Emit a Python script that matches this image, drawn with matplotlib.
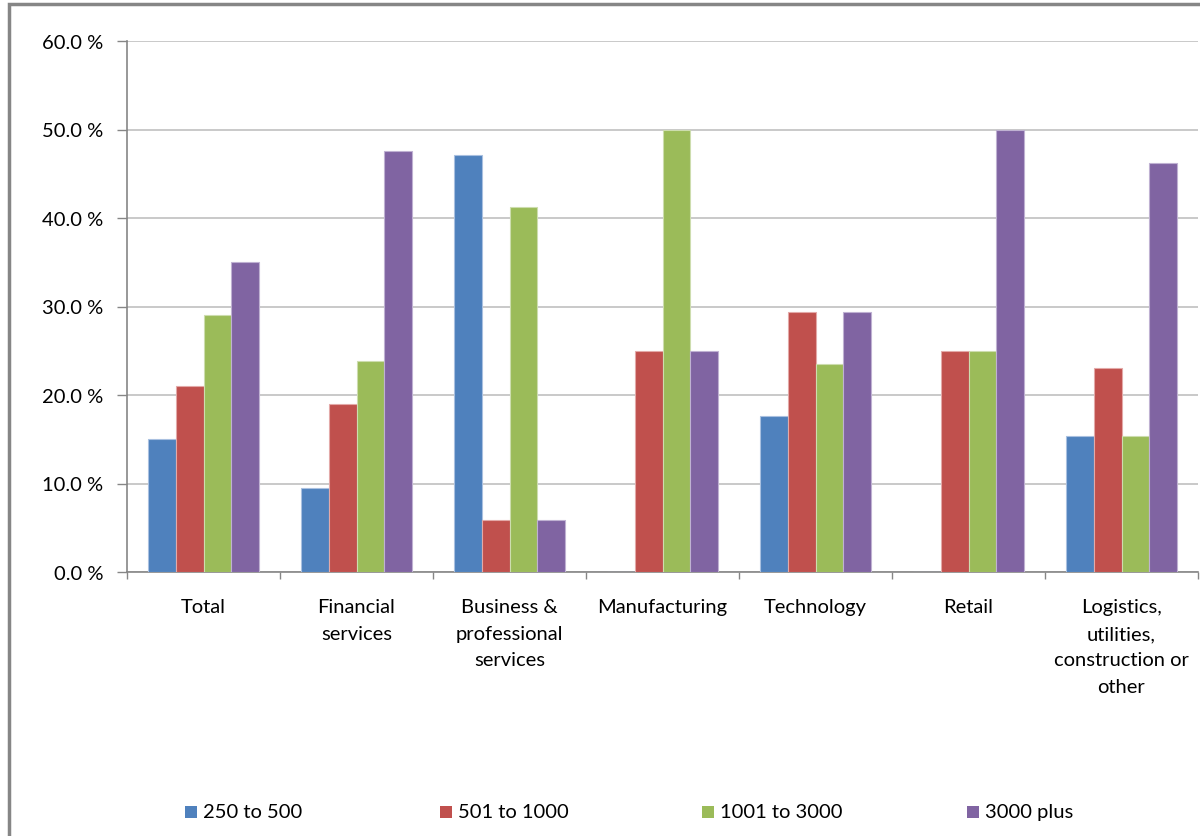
import matplotlib
matplotlib.use("Agg")
import matplotlib.pyplot as plt
from matplotlib.patches import Rectangle
import numpy as np

categories = ["Total", "Financial\nservices", "Business &\nprofessional\nservices",
              "Manufacturing", "Technology", "Retail",
              "Logistics,\nutilities,\nconstruction or\nother"]
series_names = ["250 to 500", "501 to 1000", "1001 to 3000", "3000 plus"]
s_250_500 = [15.0, 9.5, 47.1, 0.0, 17.6, 0.0, 15.4]
s_501_1000 = [21.0, 19.0, 5.9, 25.0, 29.4, 25.0, 23.1]
s_1001_3000 = [29.0, 23.8, 41.2, 50.0, 23.5, 25.0, 15.4]
s_3000_plus = [35.0, 47.6, 5.9, 25.0, 29.4, 50.0, 46.2]
yticks = [0, 10, 20, 30, 40, 50, 60]

colors = ["#4F81BD", "#C0504D", "#9BBB59", "#8064A2"]
edge_colors = ["#A9C0E0", "#E3A9A8", "#CDDDAE", "#BFB1D2"]

plt.rcParams["font.family"] = ["Lato", "DejaVu Sans"]
FS = 14.5

fig = plt.figure(figsize=(12, 8.37), dpi=100)
ax = fig.add_axes([127 / 1200, 1 - 573 / 837, 1071 / 1200, 531 / 837])

all_series = [s_250_500, s_501_1000, s_1001_3000, s_3000_plus]
n = len(categories)
x = np.arange(n)
w = 1 / 5.5
for i, vals in enumerate(all_series):
    offs = (i - 1.5) * w
    ax.bar(x + offs, vals, width=w, color=colors[i], edgecolor=edge_colors[i],
           linewidth=0.8, zorder=3)

ax.set_xlim(-0.5, n - 0.5)
ax.set_ylim(0, 60)
ax.set_yticks(yticks)
ax.set_yticklabels([f"{v:.1f} %" for v in yticks], fontsize=FS, color="#000000")
ax.yaxis.grid(True, color="#C0C0C0", linewidth=1.2, zorder=0)
ax.tick_params(axis="y", length=7, width=1, color="#868686", pad=10)

# Category boundaries as ticks, labels centred between them
ax.set_xticks(np.arange(-0.5, n, 1.0))
ax.set_xticklabels([])
ax.set_xticks(x, minor=True)
ax.set_xticklabels(categories, minor=True, fontsize=FS, linespacing=1.68, va="top")
ax.tick_params(axis="x", which="major", length=5, width=1, color="#868686")
ax.tick_params(axis="x", which="minor", length=0, pad=19)

for side in ["top", "right"]:
    ax.spines[side].set_visible(False)
for side in ["left", "bottom"]:
    ax.spines[side].set_color("#868686")
    ax.spines[side].set_linewidth(1.2)

# Legend entries spread along the bottom
legend_x = [185, 440, 702, 967]
for i, name in enumerate(series_names):
    fig.patches.append(Rectangle((legend_x[i] / 1200, 1 - 819 / 837), 12 / 1200, 12 / 837,
                                 transform=fig.transFigure, facecolor=colors[i],
                                 edgecolor="none", figure=fig))
    fig.text((legend_x[i] + 18) / 1200, 1 - 813 / 837, name, fontsize=FS,
             va="center", ha="left")

# Chart frame
fig.patches.append(Rectangle((9 / 1200, -0.1), 1.2, 1 - 5 / 837 + 0.1,
                             transform=fig.transFigure, facecolor="none",
                             edgecolor="#868686", linewidth=2.5, figure=fig))

fig.savefig("out.png", dpi=100)
